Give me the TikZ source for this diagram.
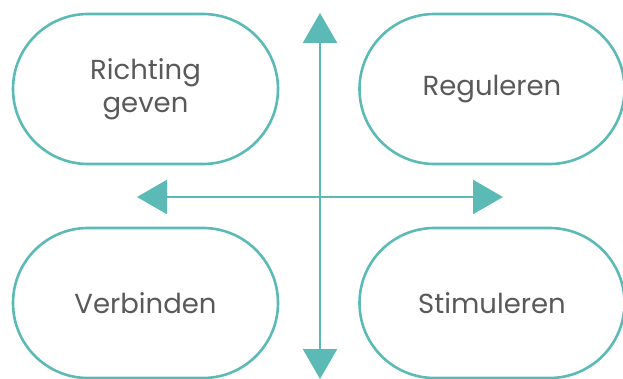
\documentclass[tikz,border=0pt]{standalone}
\usepackage{fontspec}
\setmainfont{Poppins}
\usetikzlibrary{arrows.meta}
\definecolor{teal}{HTML}{5BBAB5}
\definecolor{labelgray}{HTML}{595959}
\begin{document}
\begin{tikzpicture}[x=1pt,y=1pt,
  pill/.style={draw=teal, line width=2.6pt, rounded corners=75pt,
    minimum width=265pt, minimum height=150pt, inner sep=0pt,
    align=center, text=labelgray, font=\fontsize{27.5}{33}\selectfont},
  axis/.style={draw=teal, line width=2.6pt,
    {Triangle[length=30pt,width=34pt]}-{Triangle[length=30pt,width=34pt]}}]
  \useasboundingbox (0,0) rectangle (623,-379);
  % four quadrant blocks
  \node[pill] (dir) at (145.5,-89) {Richting\\geven};
  \node[pill] (reg) at (492,-89) {Reguleren};
  \node[pill] (con) at (145.5,-303) {Verbinden};
  \node[pill] (sti) at (492,-303) {Stimuleren};
  % axis end points
  \coordinate (top) at (320,-13);
  \coordinate (bottom) at (320,-379);
  \coordinate (left) at (137,-197);
  \coordinate (right) at (503,-197);
  % crossing double arrows
  \draw[axis] (top) -- (bottom);
  \draw[axis] (left) -- (right);
\end{tikzpicture}
\end{document}
